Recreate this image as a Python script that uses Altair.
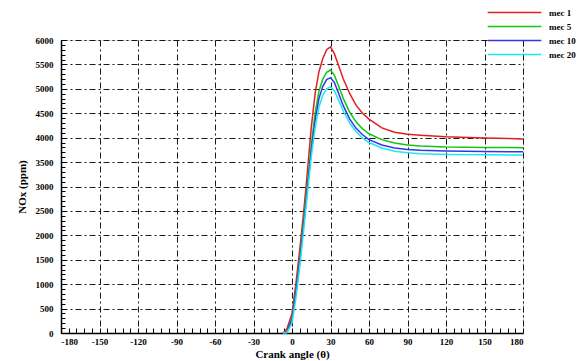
import altair as alt
import pandas as pd

angles = [-7, -4, 0, 3, 6, 9, 12, 15, 18, 21, 24, 27, 30, 33, 36, 40, 45, 50, 55, 60, 70, 80, 90, 100, 120, 150, 180]
mec1 = [0, 80, 400, 1000, 1700, 2450, 3300, 4200, 4900, 5350, 5620, 5800, 5860, 5720, 5500, 5200, 4900, 4660, 4500, 4380, 4200, 4110, 4070, 4050, 4020, 3995, 3975]
mec5 = [0, 20, 300, 850, 1500, 2250, 3050, 3850, 4500, 4950, 5200, 5340, 5385, 5280, 5080, 4800, 4520, 4320, 4180, 4080, 3960, 3890, 3850, 3830, 3810, 3800, 3795]
mec10 = [0, 15, 280, 800, 1450, 2180, 2950, 3720, 4350, 4800, 5050, 5190, 5230, 5130, 4930, 4650, 4380, 4190, 4060, 3960, 3850, 3790, 3760, 3740, 3725, 3715, 3710]
mec20 = [0, 5, 200, 700, 1350, 2080, 2850, 3600, 4200, 4620, 4870, 5000, 5040, 4960, 4790, 4540, 4300, 4120, 3990, 3900, 3790, 3720, 3690, 3670, 3655, 3648, 3645]

series_names = ["mec 1", "mec 5", "mec 10", "mec 20"]
series_colors = ["#e02020", "#10c810", "#3535f0", "#20e8f0"]
x_ticks = list(range(-180, 181, 30))
y_ticks = list(range(0, 6001, 500))
x_minor = list(range(-180, 181, 6))
y_minor = list(range(0, 6001, 100))

rows = []
for name, vals in zip(series_names, [mec1, mec5, mec10, mec20]):
    for a, v in zip(angles, vals):
        rows.append({"angle": a, "nox": v, "series": name})
df = pd.DataFrame(rows)

FONT = "Liberation Serif"
grid_dash = [6, 3, 2, 3]

x_scale = alt.Scale(domain=[-180, 180], nice=False, zero=False)
y_scale = alt.Scale(domain=[0, 6000], nice=False)

lines = alt.Chart(df).mark_line(strokeWidth=1.5).encode(
    x=alt.X("angle:Q", scale=x_scale,
            axis=alt.Axis(values=x_ticks, orient="bottom", title="Crank angle (θ)",
                          labelExpr="'' + datum.value",
                          grid=True, gridDash=grid_dash, gridColor="#000000", gridOpacity=0.9,
                          tickSize=0, domainColor="#000000", domainWidth=1.5,
                          labelFont=FONT, labelFontSize=9, labelFontWeight="bold", labelColor="#000",
                          labelPadding=4, titleFont=FONT, titleFontSize=11, titleFontWeight="bold",
                          titleColor="#000", titlePadding=2)),
    y=alt.Y("nox:Q", scale=y_scale,
            axis=alt.Axis(values=y_ticks, orient="left", title="NOx (ppm)",
                          labelExpr="'' + datum.value",
                          grid=True, gridDash=grid_dash, gridColor="#000000", gridOpacity=0.9,
                          tickSize=0, domainColor="#000000", domainWidth=1.5,
                          labelFont=FONT, labelFontSize=9, labelFontWeight="bold", labelColor="#000",
                          labelPadding=8, titleFont=FONT, titleFontSize=11, titleFontWeight="bold",
                          titleColor="#000", titlePadding=8)),
    color=alt.Color("series:N", scale=alt.Scale(domain=series_names, range=series_colors),
                    legend=alt.Legend(title=None, orient="none", legendX=446, legendY=-35,
                                      symbolType="M-4,0H4", symbolSize=180, symbolStrokeWidth=1.5,
                                      labelOffset=27,
                                      labelFont=FONT, labelFontSize=9, labelFontWeight="bold",
                                      labelColor="#000", rowPadding=1, symbolOffset=0)),
    detail="series:N",
)

minor = alt.Chart(df).mark_line(opacity=0).encode(
    x=alt.X("angle:Q", scale=x_scale,
            axis=alt.Axis(values=x_minor, orient="top", offset=-293, labels=False, title=None,
                          grid=False, domain=False, ticks=True, tickColor="#000000", tickWidth=1,
                          tickSize=5, tickOpacity=1)),
    y=alt.Y("nox:Q", scale=y_scale,
            axis=alt.Axis(values=y_minor, orient="right", offset=-462, labels=False, title=None,
                          grid=False, domain=False, ticks=True, tickColor="#000000", tickWidth=1,
                          tickSize=4, tickOpacity=1)),
    detail="series:N",
)

chart = alt.layer(lines, minor).resolve_axis(x="independent", y="independent").properties(
    width=462, height=293,
    padding={"left": 61, "top": 40, "right": 65, "bottom": 28},
    autosize="none",
).configure_view(stroke=None).configure(background="white")

chart.save("out.html", embed_options={"renderer": "svg", "actions": False})
